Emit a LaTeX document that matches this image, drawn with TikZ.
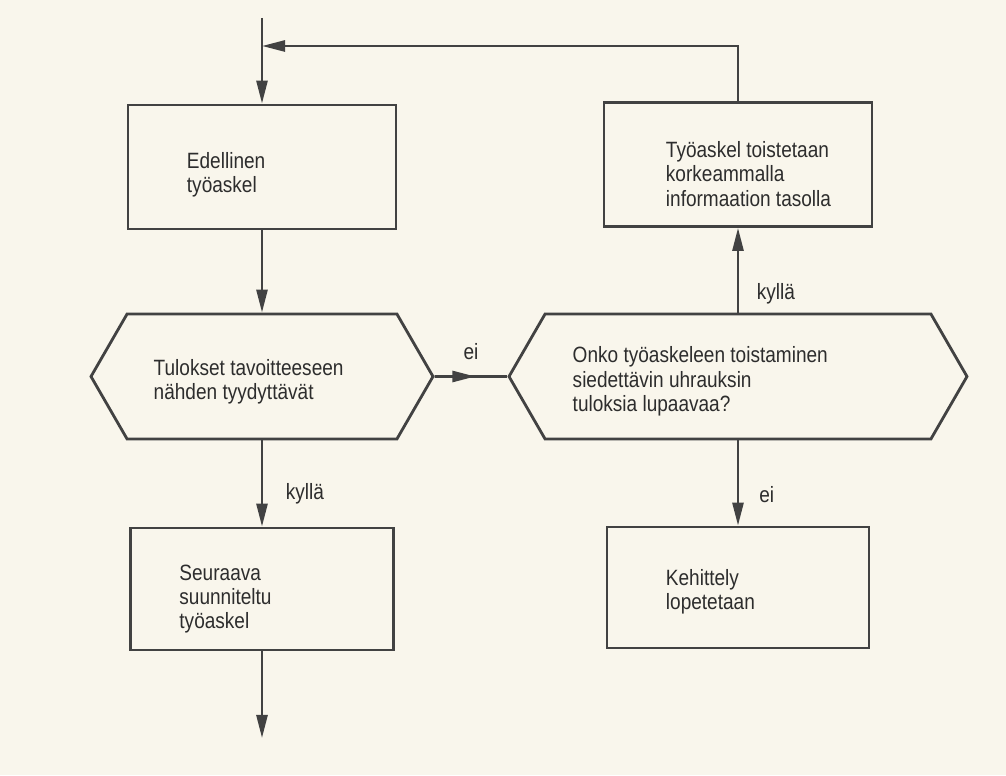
\documentclass[tikz,border=0pt]{standalone}
\usepackage{fontspec}
\setmainfont{Liberation Sans}[FakeStretch=0.86]
\usepackage{tikz}
\usetikzlibrary{arrows.meta,positioning,calc,shapes.symbols}
\definecolor{paper}{RGB}{249,246,236}
\definecolor{ink}{RGB}{66,66,66}
\definecolor{textink}{RGB}{45,45,45}

\tikzset{
  stepbox/.style={draw=ink, line width=1.6pt, minimum width=5.36cm, minimum height=2.48cm},
  query/.style={signal, signal to=west and east, signal pointer angle=120,
    draw=ink, line width=1.6pt, minimum height=2.5cm},
  txt/.style={anchor=west, align=left, inner sep=0pt, text=textink,
    font=\fontsize{12.6}{13.8}\selectfont},
  flow/.style={draw=ink, line width=1.5pt},
  arr/.style={flow, -{Triangle[length=4.6mm, width=2.2mm]}},
  lbl/.style={text=textink, font=\fontsize{12.6}{13.8}\selectfont, inner sep=0pt}
}

\begin{document}
\begin{tikzpicture}
  \fill[paper] (0,0) rectangle (20.12,15.5);

  \node[stepbox] (prev) at (5.24,12.16) {};
  \node[query, minimum width=6.84cm] (goal) at (5.24,7.97) {};
  \node[stepbox, minimum width=5.26cm, minimum height=2.44cm] (next) at (5.24,3.72) {};
  \node[stepbox] (redo) at (14.76,12.21) {};
  \node[query, minimum width=9.16cm] (worth) at (14.76,7.97) {};
  \node[stepbox, minimum width=5.24cm, minimum height=2.42cm] (stop) at (14.76,3.75) {};

  \node[txt] (prevtext) at ([xshift=1.2cm, yshift=-0.15cm]prev.west) {Edellinen\\työaskel};
  \node[txt] (goaltext) at ([xshift=1.28cm, yshift=-0.11cm]goal.west) {Tulokset tavoitteeseen\\nähden tyydyttävät};
  \node[txt] (nexttext) at ([xshift=1.0cm, yshift=-0.2cm]next.west) {Seuraava\\suunniteltu\\työaskel};
  \node[txt] (redotext) at ([xshift=1.26cm, yshift=-0.19cm]redo.west) {Työaskel toistetaan\\korkeammalla\\informaation tasolla};
  \node[txt] (worthtext) at ([xshift=1.3cm, yshift=-0.1cm]worth.west) {Onko työaskeleen toistaminen\\siedettävin uhrauksin\\tuloksia lupaavaa?};
  \node[txt] (stoptext) at ([xshift=1.2cm, yshift=-0.08cm]stop.west) {Kehittely\\lopetetaan};

  \coordinate (in) at (5.24,15.14);
  \coordinate (join) at (5.24,14.58);
  \coordinate (out) at (5.24,0.74);

  \draw[arr] (in) -- (prev);
  \draw[arr] (redo.north) |- (join);
  \draw[arr] (prev) -- (goal);
  \draw[arr] (goal) -- (next) node[lbl, right=0.45cm, pos=0.62] {kyllä};
  \draw[arr] (next) -- (out);
  \draw[flow] (goal.east) -- (worth.west) node[lbl, above=0.3cm, pos=0.5] {ei};
  \draw[arr] (goal.east) -- ($(goal.east)!0.56!(worth.west)$);
  \draw[arr] (worth) -- (redo) node[lbl, right=0.35cm, pos=0.22] {kyllä};
  \draw[arr] (worth) -- (stop) node[lbl, right=0.4cm, pos=0.64] {ei};
\end{tikzpicture}
\end{document}
